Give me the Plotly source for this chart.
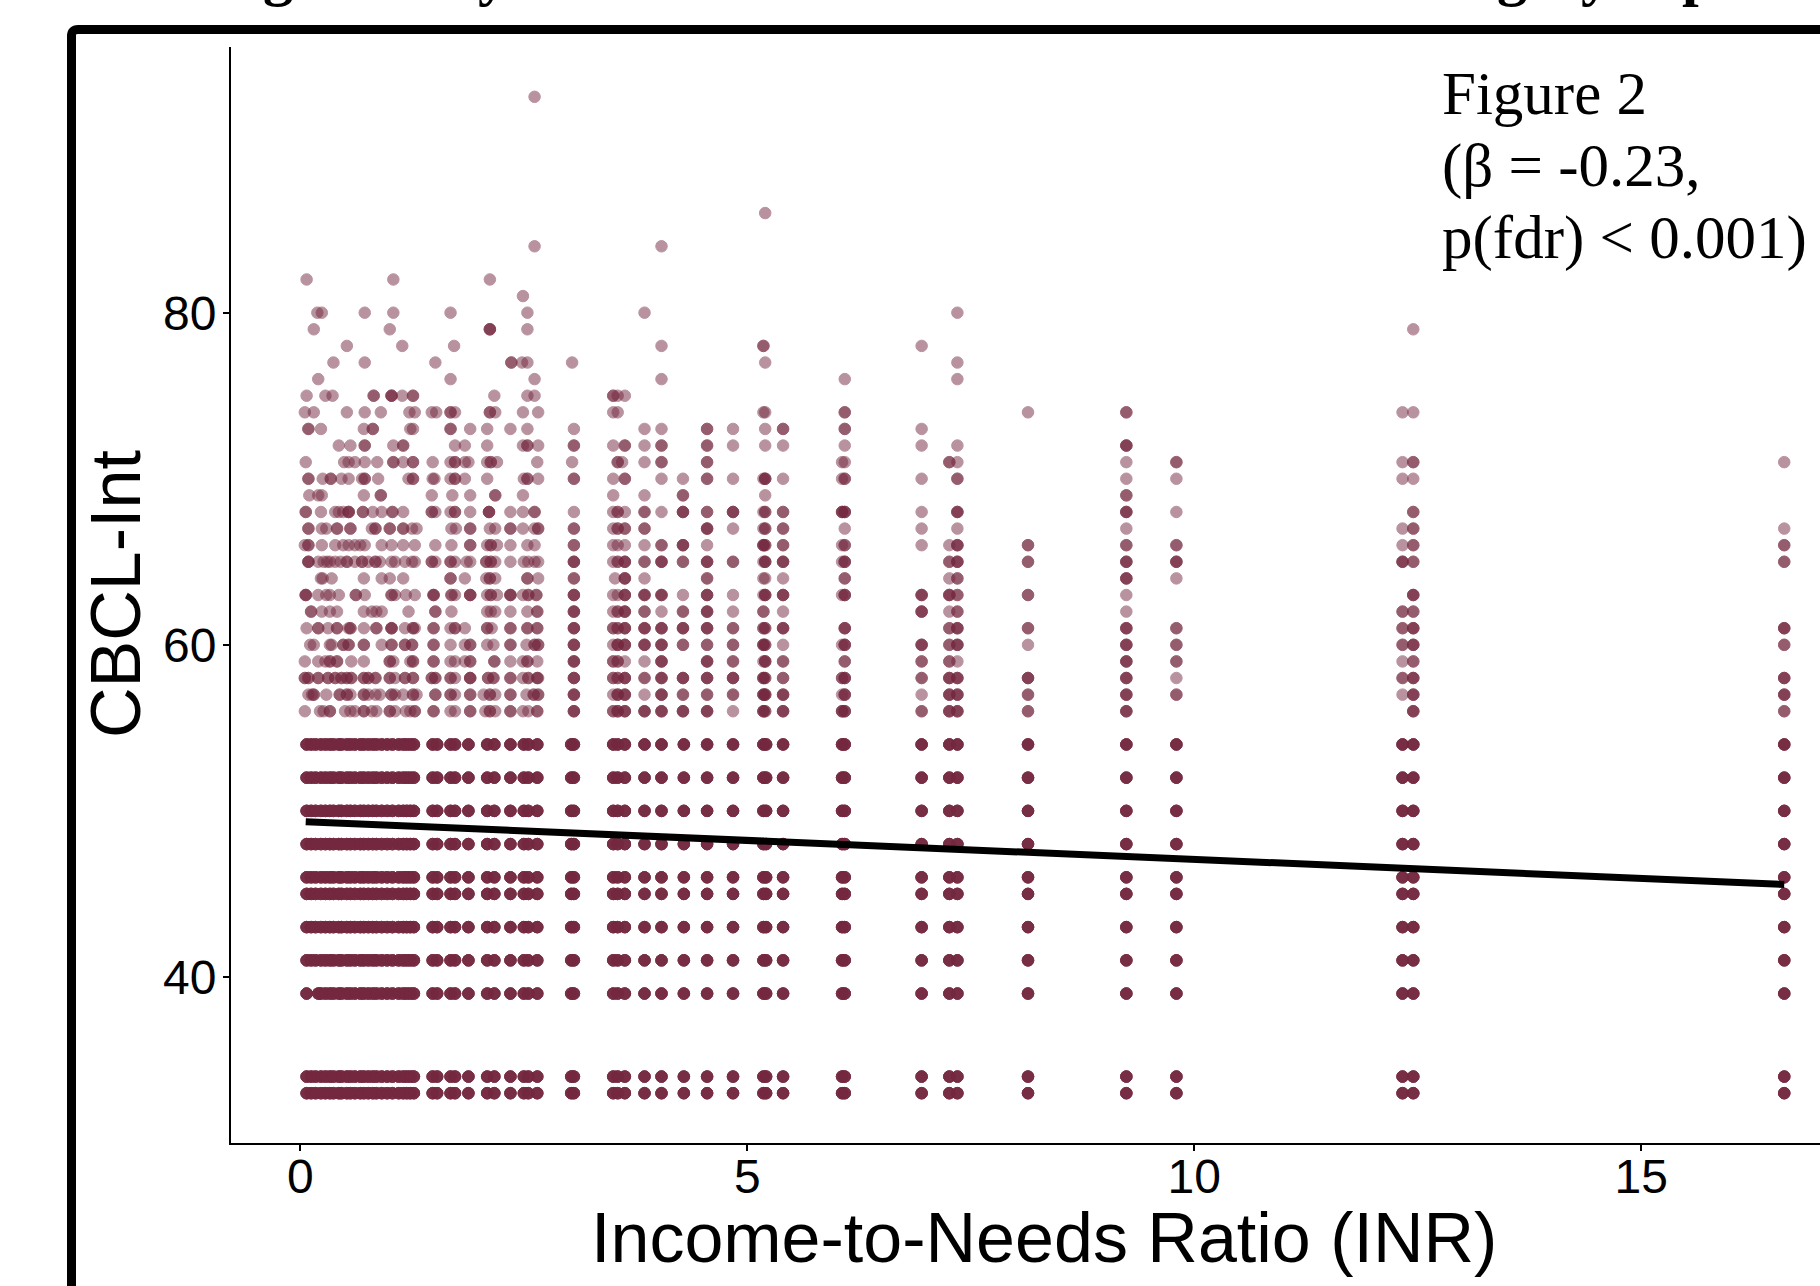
import plotly.graph_objects as go

W, H = 1820, 1286

# rows of points at x <= 6.1 (a repeated value = overlapping respondents, so a darker dot)
row_93 = [2.62]
row_86 = [5.20]
row_84 = [2.62, 4.04]
row_82 = [.07, 1.04, 2.12]
row_81 = [2.49]
row_80 = [.19, .24, .72, 1.04, 1.68, 2.54, 3.85]
row_79 = [.15, 1.0, 2.12, 2.12, 2.12, 2.54]
row_78 = [.52, 1.14, 1.72, 4.04, 5.18, 5.18]
row_77 = [.37, .72, 1.51, 2.36, 2.36, 2.48, 2.54, 3.04, 5.20]
row_76 = [.20, 1.68, 2.62, 4.04, 6.09]
row_75 = [.07, .28, .36, .82, .82, 1.02, 1.02, 1.02, 1.14, 1.26, 1.26, 2.17, 2.54, 2.62,
          3.5, 3.5, 3.55, 3.63]
row_74 = [.05, .15, .52, .72, .9, 1.22, 1.28, 1.47, 1.52, 1.68, 1.68, 1.73, 2.12, 2.12, 2.18,
          2.49, 2.66, 3.5, 3.55, 5.18, 5.20, 6.09, 6.09]
row_73 = [.09, .09, .23, .71, .81, .81, 1.23, 1.26, 1.68, 1.68, 1.90, 2.09, 2.35, 2.54, 3.06,
          3.85, 4.04, 4.55, 4.55, 4.84, 5.20, 5.40, 5.40, 6.09, 6.09]
row_72 = [.43, .56, .72, .72, 1.04, 1.15, 1.15, 1.73, 1.84, 2.09, 2.49, 2.54, 2.54, 2.66, 3.06, 3.06,
          3.5, 3.63, 3.63, 3.85, 4.04, 4.04, 4.55, 4.55, 4.84, 5.20, 5.40, 6.09]
row_71 = [.06, .49, .54, .61, .72, .86, 1.04, 1.04, 1.15, 1.26, 1.26, 1.48, 1.68, 1.73, 1.73, 1.84, 1.88,
          2.09, 2.13, 2.13, 2.20, 2.65, 3.04, 3.55, 3.55, 3.60, 3.85, 4.04, 4.04, 4.55, 4.55, 6.06, 6.09]
row_70 = [.09, .09, .25, .34, .34, .46, .54, .69, .72, .72, .87, 1.21, 1.26, 1.26, 1.48, 1.50, 1.68,
          1.73, 1.73, 1.84, 2.09, 2.50, 2.54, 2.54, 2.66, 3.06, 3.06, 3.5, 3.63, 3.63, 4.04, 4.28,
          4.55, 4.55, 4.84, 5.18, 5.20, 5.20, 5.20, 5.40, 6.06, 6.09, 6.09]
row_69 = [.10, .20, .24, .71, .90, .90, 1.47, 1.70, 1.90, 2.18, 2.18, 2.49, 3.5, 3.85, 4.28, 4.28, 5.20]
row_68 = [.06, .06, .23, .39, .43, .48, .54, .54, .54, .70, .70, .81, .91, 1.03, 1.03, 1.15, 1.47, 1.47,
          1.51, 1.68, 1.73, 1.73, 1.90, 2.11, 2.11, 2.11, 2.35, 2.49, 2.62, 2.62, 3.06, 3.5, 3.55, 3.55, 3.63,
          3.85, 3.85, 4.04, 4.28, 4.28, 4.28, 4.55, 4.55, 4.84, 4.84, 4.84, 5.18, 5.20, 5.20, 5.40, 5.40,
          6.06, 6.06, 6.06, 6.09, 6.09, 6.09]
row_67 = [.09, .09, .24, .29, .41, .41, .56, .56, .80, .84, .84, 1.00, 1.00, 1.15, 1.15, 1.25, 1.30, 1.69,
          1.74, 1.90, 1.90, 2.12, 2.18, 2.35, 2.35, 2.49, 2.62, 2.66, 2.66, 3.06, 3.06, 3.5, 3.55, 3.55,
          3.63, 3.63, 3.85, 3.85, 4.55, 4.55, 4.55, 4.84, 5.18, 5.20, 5.20, 5.40, 5.40, 6.09]
row_66 = [.05, .09, .09, .24, .39, .48, .54, .61, .67, .72, .91, 1.02, 1.15, 1.28, 1.51, 1.69, 1.90, 1.90,
          2.09, 2.13, 2.13, 2.20, 2.35, 2.54, 2.62, 3.06, 3.06, 3.5, 3.55, 3.63, 3.85, 4.04, 4.04,
          4.28, 4.28, 4.28, 4.55, 5.18, 5.18, 5.18, 5.20, 5.20, 5.40, 5.40, 6.06, 6.09, 6.09]
row_65 = [.09, .09, .09, .20, .26, .30, .33, .39, .45, .52, .52, .61, .69, .69, .76, .84, .84, .89, 1.02,
          1.06, 1.17, 1.25, 1.28, 1.47, 1.47, 1.51, 1.68, 1.68, 1.73, 1.86, 1.90, 2.08, 2.08, 2.13, 2.13, 2.18,
          2.35, 2.50, 2.55, 2.62, 2.66, 3.06, 3.06, 3.06, 3.5, 3.55, 3.55, 3.63, 3.63, 3.63, 3.85, 3.85,
          4.04, 4.04, 4.04, 4.28, 4.28, 4.55, 4.55, 4.55, 4.84, 4.84, 5.18, 5.20, 5.20, 5.20, 5.40, 5.40, 5.40,
          6.06, 6.09, 6.09, 6.09]
row_64 = [.23, .25, .35, .71, .91, 1.00, 1.15, 1.68, 1.68, 1.84, 2.08, 2.12, 2.12, 2.18, 2.54, 2.54, 2.66,
          3.06, 3.06, 3.52, 3.63, 3.63, 3.63, 3.85, 4.55, 4.55, 5.18, 5.20, 5.40, 6.09, 6.09]
row_63 = [.06, .06, .06, .20, .29, .33, .43, .62, .62, .72, 1.02, 1.02, 1.06, 1.18, 1.28, 1.49, 1.49, 1.49,
          1.69, 1.69, 1.73, 1.90, 1.90, 1.90, 2.09, 2.13, 2.13, 2.20, 2.35, 2.35, 2.35, 2.49, 2.55, 2.55, 2.64, 2.64,
          3.06, 3.06, 3.06, 3.5, 3.55, 3.63, 3.63, 3.63, 3.85, 3.85, 3.85, 4.04, 4.04, 4.04, 4.28, 4.55, 4.55, 4.55,
          4.84, 5.18, 5.20, 5.20, 5.20, 5.40, 5.40, 5.40, 6.06, 6.09, 6.09, 6.09]
row_62 = [.12, .12, .24, .33, .41, .71, .80, .85, .91, 1.21, 1.51, 1.51, 1.69, 2.09, 2.13, 2.18, 2.35, 2.54,
          2.65, 2.65, 3.06, 3.06, 3.06, 3.5, 3.55, 3.55, 3.63, 3.63, 3.63, 3.85, 3.85, 4.04, 4.28, 4.28,
          4.55, 4.55, 4.55, 4.84, 5.18, 5.18, 5.40]
row_61 = [.07, .20, .20, .31, .41, .41, .54, .56, .56, .71, .85, .85, 1.02, 1.02, 1.02, 1.17, 1.28, 1.26, 1.26,
          1.49, 1.49, 1.68, 1.73, 1.73, 1.84, 2.09, 2.09, 2.14, 2.35, 2.35, 2.54, 2.54, 2.65, 2.65, 3.06, 3.06, 3.06,
          3.5, 3.5, 3.55, 3.55, 3.63, 3.63, 3.63, 3.85, 3.85, 3.85, 4.04, 4.04, 4.04, 4.28, 4.28, 4.28, 4.55, 4.55,
          4.55, 4.84, 4.84, 5.18, 5.18, 5.20, 5.20, 5.40, 5.40, 5.40, 6.09, 6.09, 6.09]
row_60 = [.11, .15, .33, .35, .48, .48, .54, .54, .71, .71, .91, 1.02, 1.02, 1.17, 1.17, 1.25, 1.25, 1.49, 1.49,
          1.68, 1.90, 1.90, 1.84, 2.09, 2.16, 2.35, 2.35, 2.53, 2.62, 2.62, 2.66, 2.66, 3.06, 3.06, 3.06,
          3.5, 3.55, 3.55, 3.55, 3.63, 3.63, 3.63, 3.85, 3.85, 3.85, 4.04, 4.04, 4.04, 4.28, 4.28, 4.55, 4.55,
          4.84, 4.84, 5.18, 5.18, 5.18, 5.20, 5.20, 5.40, 6.06, 6.09, 6.09, 6.09]
row_59 = [.05, .20, .28, .33, .33, .41, .41, .57, .71, 1.00, 1.00, 1.04, 1.23, 1.26, 1.26, 1.49, 1.49, 1.68, 1.73,
          1.90, 1.90, 1.84, 2.17, 2.17, 2.35, 2.49, 2.54, 2.54, 2.65, 3.06, 3.06, 3.06, 3.5, 3.5, 3.55, 3.55, 3.63,
          3.85, 4.04, 4.04, 4.04, 4.55, 4.55, 4.55, 4.84, 4.84, 5.18, 5.20, 5.20, 5.20, 5.40, 5.40, 6.09, 6.09]
row_58 = [.05, .05, .09, .09, .20, .20, .31, .31, .39, .39, .46, .46, .52, .52, .57, .57, .71, .71, .76, .76, .84,
          .84, 1.00, 1.00, 1.06, 1.17, 1.17, 1.26, 1.26, 1.47, 1.47, 1.51, 1.51, 1.68, 1.68, 1.73, 1.90, 1.90, 1.90, 2.10,
          2.10, 2.16, 2.16, 2.35, 2.35, 2.49, 2.55, 2.55, 2.65, 2.65, 2.66, 3.06, 3.06, 3.06, 3.5, 3.5, 3.55, 3.55,
          3.63, 3.63, 3.63, 3.85, 3.85, 4.04, 4.04, 4.04, 4.28, 4.28, 4.28, 4.55, 4.55, 4.55, 4.84, 4.84, 4.84,
          5.18, 5.18, 5.18, 5.20, 5.20, 5.40, 5.40, 6.06, 6.06, 6.09, 6.09, 6.09]
row_57 = [.09, .13, .15, .15, .29, .44, .44, .52, .52, .56, .71, .71, .76, .84, .89, 1.02, 1.02, 1.06, 1.15, 1.26,
          1.26, 1.30, 1.51, 1.51, 1.68, 1.68, 1.73, 1.90, 1.90, 2.05, 2.12, 2.12, 2.18, 2.35, 2.35, 2.53, 2.61, 2.61,
          2.66, 2.66, 3.06, 3.06, 3.06, 3.5, 3.55, 3.55, 3.55, 3.63, 3.63, 3.63, 3.85, 4.04, 4.04, 4.04, 4.28, 4.28,
          4.55, 4.55, 4.84, 4.84, 5.18, 5.18, 5.18, 5.20, 5.20, 5.20, 5.40, 5.40, 5.40, 6.06, 6.09, 6.09, 6.09]
row_56 = [.05, .22, .26, .33, .33, .50, .56, .61, .71, .71, .80, .85, 1.00, 1.00, 1.06, 1.18, 1.23, 1.28, 1.28,
          1.49, 1.49, 1.68, 1.73, 1.90, 1.90, 2.07, 2.12, 2.12, 2.18, 2.35, 2.35, 2.49, 2.55, 2.65, 2.65, 3.06, 3.06, 3.06,
          3.5, 3.5, 3.55, 3.55, 3.55, 3.63, 3.63, 3.63, 3.85, 3.85, 3.85, 4.04, 4.04, 4.04, 4.28, 4.28, 4.28,
          4.55, 4.55, 4.55, 4.84, 5.18, 5.18, 5.18, 5.20, 5.20, 5.40, 5.40, 5.40, 6.06, 6.06, 6.06, 6.09, 6.09, 6.09]
upper_rows = {93: row_93, 86: row_86, 84: row_84, 82: row_82, 81: row_81, 80: row_80, 79: row_79, 78: row_78,
              77: row_77, 76: row_76, 75: row_75, 74: row_74, 73: row_73, 72: row_72, 71: row_71, 70: row_70,
              69: row_69, 68: row_68, 67: row_67, 66: row_66, 65: row_65, 64: row_64, 63: row_63, 62: row_62,
              61: row_61, 60: row_60, 59: row_59, 58: row_58, 57: row_57, 56: row_56}

# columns at x > 6.5, as CBCL-Int values (repeats again mean a darker dot)
col_695 = [78, 73, 72, 70, 68, 67, 66, 63, 63, 63, 62, 62, 62, 60, 60, 60, 59, 59, 58, 58, 57, 56, 56]
col_726 = [71, 71, 66, 65, 65, 64, 63, 63, 63, 62, 61, 61, 60, 60, 59, 59, 58, 58, 58, 57, 57, 57, 56, 56, 56]
col_735 = [80, 77, 76, 72, 71, 70, 70, 68, 68, 68, 67, 66, 66, 66, 65, 65, 65, 64, 64, 63, 63, 62, 62,
           61, 61, 61, 60, 60, 60, 59, 58, 58, 58, 57, 57, 57, 56, 56, 56]
col_814 = [74, 66, 66, 65, 65, 63, 63, 61, 61, 60, 58, 58, 58, 57, 57, 56, 56]
col_924 = [74, 74, 72, 72, 72, 71, 70, 69, 69, 68, 68, 68, 67, 66, 66, 65, 65, 65, 64, 64, 64, 63, 62,
           61, 61, 61, 60, 60, 60, 59, 59, 59, 58, 58, 58, 57, 57, 57, 56, 56, 56]
col_980 = [71, 71, 70, 68, 66, 66, 65, 65, 65, 64, 61, 61, 60, 60, 59, 59, 58, 57, 57]
col_1233 = [74, 71, 70, 67, 66, 65, 65, 65, 62, 62, 61, 61, 60, 60, 59, 58, 58, 57]
col_1245 = [79, 74, 71, 71, 70, 68, 68, 67, 67, 66, 66, 65, 65, 63, 63, 63, 62, 62, 61, 61, 61, 60, 60, 60,
            59, 59, 58, 58, 58, 57, 57, 57, 56, 56, 56]
col_1660 = [71, 67, 66, 66, 65, 65, 61, 61, 61, 60, 60, 58, 58, 58, 57, 57, 57, 56, 56]
sparse_columns = {6.95: col_695, 7.26: col_726, 7.35: col_735, 8.14: col_814, 9.24: col_924, 9.80: col_980,
                  12.33: col_1233, 12.45: col_1245, 16.6: col_1660}

# the saturated lower band: every INR column filled at each of these scores
low_scores = [33, 34, 41, 43, 45, 46, 48, 50, 52, 54]
low_columns = [.07, .12, .17, .23, .28, .33, .37, .43, .46, .52, .56, .61, .67, .71, .76, .81, .85, .91, .97,
               1.03, 1.10, 1.15, 1.19, 1.23, 1.27, 1.48, 1.53, 1.68, 1.73, 1.88, 2.09, 2.17, 2.35, 2.50, 2.55,
               2.65, 3.03, 3.06, 3.50, 3.55, 3.63, 3.85, 4.04, 4.29, 4.55, 4.84, 5.18, 5.21, 5.40, 6.06, 6.09,
               6.95, 7.26, 7.35, 8.14, 9.24, 9.80, 12.33, 12.45, 16.6]
score_39_columns = [.07, .20, .23, .28, .33, .37, .43, .46, .52, .56, .61, .67, .71, .76, .81, .85, .91, .97,
                    1.03, 1.10, 1.15, 1.19, 1.23, 1.27, 1.48, 1.53, 1.68, 1.73, 1.88, 2.09, 2.17, 2.35, 2.50,
                    2.55, 2.65, 3.03, 3.06, 3.50, 3.55, 3.63, 3.85, 4.04, 4.29, 4.55, 4.84, 5.18, 5.21, 5.40,
                    6.06, 6.09, 6.95, 7.26, 7.35, 8.14, 9.24, 9.80, 12.33, 12.45, 16.6]
low_overlap = 5

fit_x = [0.06, 16.6]
fit_y = [49.35, 45.57]

x_ticks = [0, 5, 10, 15]
y_ticks = [40, 60, 80]

xs, ys = [], []
for score, values in upper_rows.items():
    xs += values
    ys += [score] * len(values)
for inr, scores in sparse_columns.items():
    xs += [inr] * len(scores)
    ys += scores
for score in low_scores:
    for inr in low_columns:
        xs += [inr] * low_overlap
        ys += [score] * low_overlap
for inr in score_39_columns:
    xs += [inr] * low_overlap
    ys += [39] * low_overlap

MAROON = "#74283f"
fig = go.Figure()
fig.add_trace(go.Scatter(x=xs, y=ys, mode="markers", showlegend=False,
                         marker=dict(size=11.5, color=MAROON, opacity=0.5, line=dict(width=1, color=MAROON))))
fig.add_trace(go.Scatter(x=fit_x, y=fit_y, mode="lines", showlegend=False,
                         line=dict(color="black", width=7)))

def px(x): return x / W
def py(y): return 1 - y / H

frame = (f"M {px(71.5)} {py(1320)} L {px(71.5)} {py(36)} Q {px(71.5)} {py(29.5)} {px(78)} {py(29.5)} "
         f"L {px(1850)} {py(29.5)}")
fig.add_shape(type="path", path=frame, xref="paper", yref="paper", line=dict(color="black", width=9), layer="below")

SANS = "Liberation Sans"
SERIF = "Liberation Serif"
def note(text, x, y, size, family, xanchor="left", yanchor="middle", angle=0, **kw):
    fig.add_annotation(text=text, xref="paper", yref="paper", x=px(x), y=py(y), showarrow=False,
                       xanchor=xanchor, yanchor=yanchor, textangle=angle,
                       font=dict(family=family, size=size, color="black"), **kw)

note("Figure 2", 1440, 93, 61, SERIF)
note("(β = -0.23,", 1440, 166, 61, SERIF)
note("p(fdr) &lt; 0.001)", 1440, 238, 61, SERIF)
note("Income-to-Needs Ratio (INR)", 1044, 1238, 70, SANS, xanchor="center")
note("CBCL-Int", 116, 594, 70, SANS, xanchor="center", angle=-90)
for ch, cx in zip(["g", "y", "g", "y", "p"], [278, 493, 1512, 1596, 1698]):
    note(f"<b>{ch}</b>", cx, 9, 60, SERIF, xanchor="center", yanchor="bottom")

axis_common = dict(showgrid=False, zeroline=False, showline=True, linecolor="black", linewidth=2,
                   ticks="outside", ticklen=6, tickwidth=2, tickcolor="black",
                   tickfont=dict(family=SANS, size=48, color="black"))
fig.update_layout(
    width=W, height=H, margin=dict(l=0, r=0, t=0, b=0), autosize=False,
    paper_bgcolor="white", plot_bgcolor="white",
    xaxis=dict(domain=[px(231), 1], range=[-0.776, 17.0], tickvals=x_ticks, ticklabelstandoff=-16, **axis_common),
    yaxis=dict(domain=[py(1143), py(47)], range=[30, 96], tickvals=y_ticks, ticklabelstandoff=-3, **axis_common),
)
fig.write_html("out.html", config=dict(displayModeBar=False),
               post_script="document.body.style.margin='0';document.body.style.overflow='hidden';")
